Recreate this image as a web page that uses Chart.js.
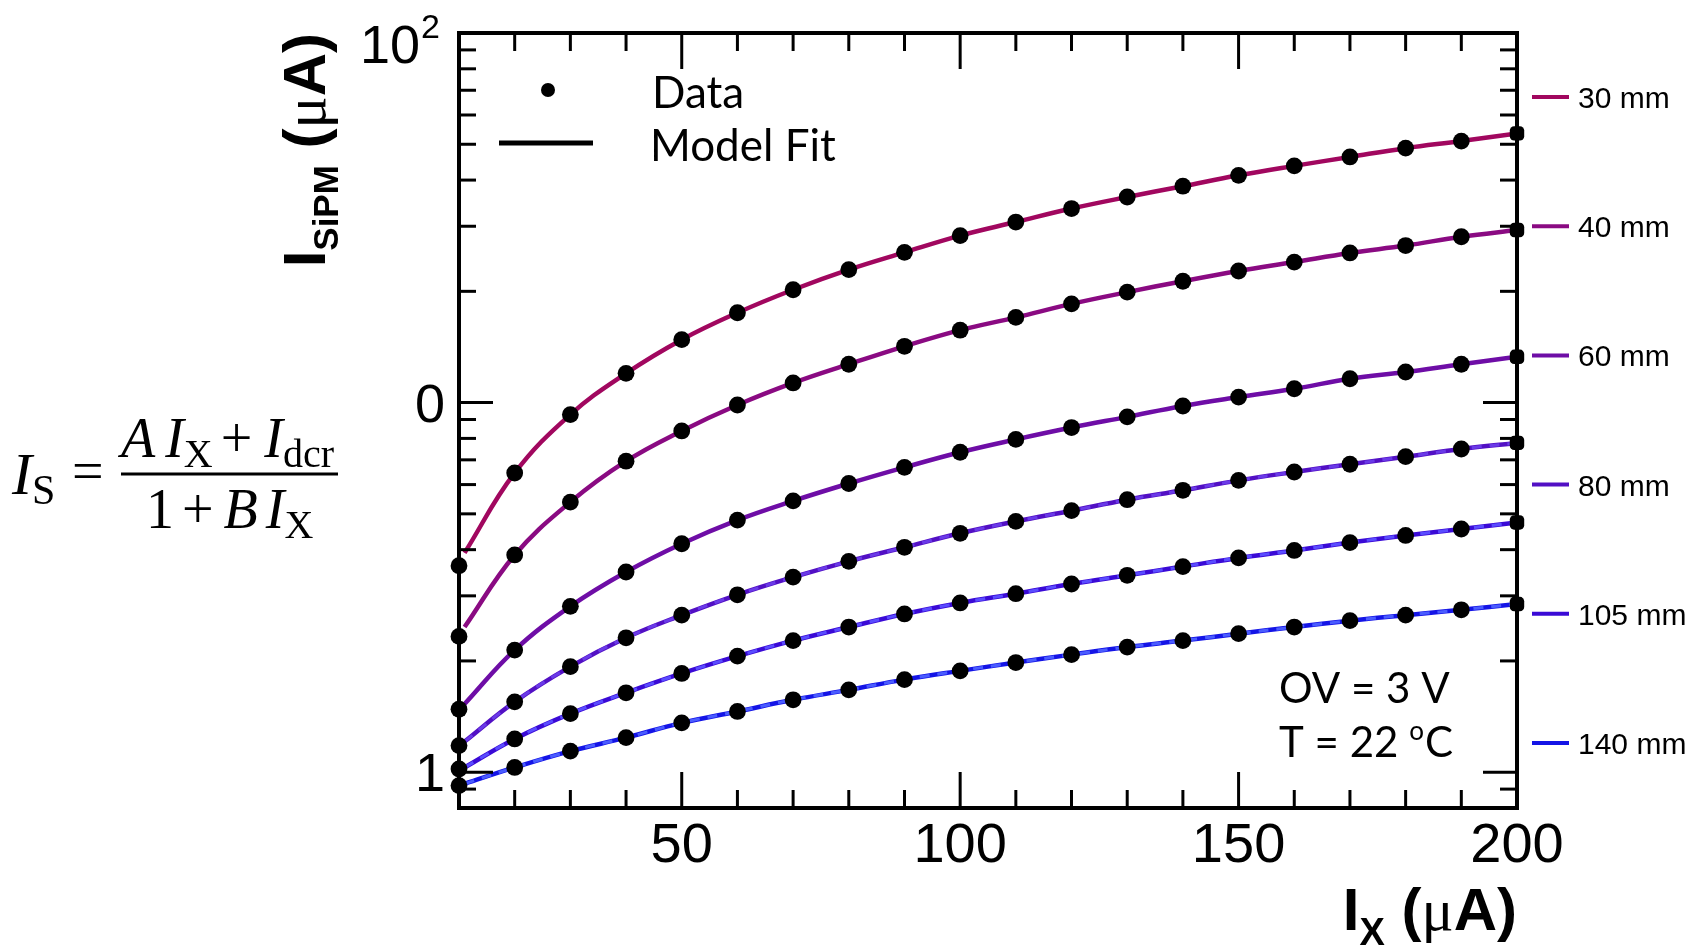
<!DOCTYPE html>
<html>
<head>
<meta charset="utf-8">
<script src="https://cdn.jsdelivr.net/npm/chart.js@4.4.0/dist/chart.umd.min.js"></script>
<style>
  body { margin: 0; background: #fff; }
  canvas { display: block; }
</style>
</head>
<body>
<canvas id="c" width="1698" height="946"></canvas>
<script>
// I_X values (uA), shared by every distance
var currents = [10, 20, 30, 40, 50, 60, 70, 80, 90, 100, 110, 120, 130, 140, 150, 160, 170, 180, 190, 200];

// I_SiPM (uA), one array per distance
var d30  = [3.62, 6.45, 9.28, 12.0, 14.8, 17.5, 20.2, 22.9, 25.5, 28.3, 30.8, 33.5, 36.0, 38.5, 41.2, 43.7, 46.2, 48.8, 51.0, 53.5];
var d40  = [2.33, 3.87, 5.38, 6.94, 8.38, 9.85, 11.3, 12.7, 14.2, 15.7, 17.0, 18.5, 19.9, 21.3, 22.7, 24.0, 25.4, 26.6, 28.1, 29.3];
var d60  = [1.48, 2.14, 2.81, 3.48, 4.15, 4.81, 5.42, 6.04, 6.68, 7.34, 7.95, 8.56, 9.15, 9.79, 10.35, 10.9, 11.6, 12.1, 12.7, 13.3];
var d80  = [1.18, 1.55, 1.93, 2.31, 2.66, 3.02, 3.37, 3.72, 4.06, 4.43, 4.77, 5.10, 5.46, 5.79, 6.16, 6.49, 6.81, 7.14, 7.49, 7.78];
var d105 = [1.02, 1.23, 1.44, 1.64, 1.85, 2.06, 2.27, 2.47, 2.68, 2.87, 3.04, 3.23, 3.41, 3.60, 3.80, 3.98, 4.18, 4.37, 4.55, 4.74];
var d140 = [0.92, 1.03, 1.14, 1.24, 1.36, 1.46, 1.57, 1.67, 1.78, 1.88, 1.98, 2.08, 2.18, 2.27, 2.37, 2.47, 2.57, 2.66, 2.75, 2.85];

// the fit curves start a little right of the first point
var fitStartX = 11;
var fitStart = [3.92, 2.47, 1.53, 1.21, 1.03, 0.93];

var series = [d30, d40, d60, d80, d105, d140];
var distances = ["30 mm", "40 mm", "60 mm", "80 mm", "105 mm", "140 mm"];
var colors = ["#a1075f", "#8a0a82", "#6e0da6", "#5210c4", "#3a0ad6", "#1414e6"];
var dashColors = [null, null, null, "#6a3ae8", "#5a4cff", "#4a5cff"];

var xMajor = [50, 100, 150, 200];
var xMinor = [20, 30, 40, 60, 70, 80, 90, 110, 120, 130, 140, 160, 170, 180, 190];
var yMajor = [1, 10, 100];
var yMinor = [0.9, 2, 3, 4, 5, 6, 7, 8, 9, 20, 30, 40, 50, 60, 70, 80, 90];
var xLabels = ["50", "100", "150", "200"];

function pts(vals) {
  return currents.map(function(x, i) { return { x: x, y: vals[i] }; });
}

var datasets = [];
for (var k = 0; k < series.length; k++) {
  var dots = pts(series[k]);
  var fit = [{ x: fitStartX, y: fitStart[k] }].concat(dots.slice(1));
  datasets.push({
    data: dots, showLine: false, order: 0, clip: false,
    pointRadius: 8.4, pointBorderWidth: 0, pointBackgroundColor: "#000",
    pointStyle: currents.map(function(x, i) { return i == currents.length - 1 ? "rectRounded" : "circle"; })
  });
  if (dashColors[k]) {
    datasets.push({
      data: fit, showLine: true, order: 1, pointRadius: 0,
      borderColor: dashColors[k], borderWidth: 3, borderDash: [10, 8],
      tension: 0.4
    });
  }
  datasets.push({
    data: fit, showLine: true, order: 2, pointRadius: 0,
    borderColor: colors[k], borderWidth: 4.5,
    tension: 0.4
  });
}

// draw a row of text pieces, each with its own font and baseline shift
function runs(ctx, x, y, parts) {
  parts.forEach(function(p) {
    ctx.font = p.f;
    ctx.fillText(p.t, x + (p.dx || 0), y + (p.dy || 0));
    x += (p.dx || 0) + ctx.measureText(p.t).width;
  });
  return x;
}
function runsWidth(ctx, parts) {
  var w = 0;
  parts.forEach(function(p) { ctx.font = p.f; w += (p.dx || 0) + ctx.measureText(p.t).width; });
  return w;
}

var decor = {
  id: "decor",
  afterDraw: function(chart) {
    var ctx = chart.ctx, a = chart.chartArea;
    var sx = chart.scales.x, sy = chart.scales.y;
    ctx.save();
    ctx.strokeStyle = "#000";
    ctx.fillStyle = "#000";

    // ticks on all four sides, pointing inwards
    ctx.lineWidth = 3;
    function seg(x1, y1, x2, y2) { ctx.beginPath(); ctx.moveTo(x1, y1); ctx.lineTo(x2, y2); ctx.stroke(); }
    xMajor.forEach(function(v) { var p = sx.getPixelForValue(v); seg(p, a.bottom, p, a.bottom - 36); seg(p, a.top, p, a.top + 36); });
    xMinor.forEach(function(v) { var p = sx.getPixelForValue(v); seg(p, a.bottom, p, a.bottom - 18); seg(p, a.top, p, a.top + 18); });
    yMajor.forEach(function(v) { var p = sy.getPixelForValue(v); seg(a.left, p, a.left + 34, p); seg(a.right, p, a.right - 34, p); });
    yMinor.forEach(function(v) { var p = sy.getPixelForValue(v); seg(a.left, p, a.left + 17, p); seg(a.right, p, a.right - 17, p); });

    // frame
    ctx.lineWidth = 4;
    ctx.strokeRect(a.left, a.top, a.right - a.left, a.bottom - a.top);

    // x tick labels
    ctx.font = "56px 'Liberation Sans'";
    ctx.textAlign = "center";
    ctx.textBaseline = "alphabetic";
    xMajor.forEach(function(v, i) { ctx.fillText(xLabels[i], sx.getPixelForValue(v), 862); });

    // y tick labels
    ctx.textAlign = "right";
    ctx.font = "54px 'Liberation Sans'";
    ctx.fillText("1", 445, sy.getPixelForValue(1) + 19);
    ctx.fillText("0", 445, sy.getPixelForValue(10) + 19);
    ctx.fillText("10", 420, 63);
    ctx.textAlign = "left";
    ctx.font = "34px 'Liberation Sans'";
    ctx.fillText("2", 421, 38);

    // x axis title, right aligned to the frame
    var xt = [
      { t: "I", f: "bold 60px 'Liberation Sans'" },
      { t: "X", f: "bold 38px 'Liberation Sans'", dy: 15 },
      { t: " (", f: "bold 60px 'Liberation Sans'" },
      { t: "\u03bc", f: "60px 'Liberation Serif'" },
      { t: "A)", f: "bold 60px 'Liberation Sans'" }
    ];
    runs(ctx, a.right - runsWidth(ctx, xt), 930, xt);

    // y axis title, rotated
    var yt = [
      { t: "I", f: "bold 60px 'Liberation Sans'" },
      { t: "SiPM", f: "bold 35px 'Liberation Sans'", dy: 13 },
      { t: " (", f: "bold 60px 'Liberation Sans'" },
      { t: "\u03bc", f: "60px 'Liberation Serif'" },
      { t: "A)", f: "bold 60px 'Liberation Sans'" }
    ];
    var yw = runsWidth(ctx, yt);
    ctx.save();
    ctx.translate(325, 33 + yw);
    ctx.rotate(-Math.PI / 2);
    runs(ctx, 0, 0, yt);
    ctx.restore();

    // legend inside the frame
    ctx.beginPath(); ctx.arc(548, 90, 7, 0, Math.PI * 2); ctx.fill();
    ctx.lineWidth = 5;
    seg(499, 143, 593, 143);
    ctx.font = "44px Lato";
    ctx.fillText("Data", 652, 108);
    ctx.fillText("Model Fit", 650, 161);

    // running conditions
    ctx.font = "42px Lato";
    ctx.fillText("OV = 3 V", 1279, 703);
    var tx = runs(ctx, 1279, 757, [{ t: "T = 22 ", f: "42px Lato" }]);
    tx = runs(ctx, tx, 757, [{ t: "o", f: "26px Lato", dy: -17 }]);
    runs(ctx, tx + 1, 757, [{ t: "C", f: "42px Lato" }]);

    // distance key on the right
    ctx.lineWidth = 4;
    ctx.font = "30px 'Liberation Sans'";
    distances.forEach(function(d, i) {
      var y = 97 + i * 129.2;
      ctx.strokeStyle = colors[i];
      seg(1532, y, 1569, y);
      ctx.fillText(d, 1578, y + 11);
    });

    // model formula
    var it = "italic 56px 'Liberation Serif'", rm = "56px 'Liberation Serif'", sb = "40px 'Liberation Serif'";
    runs(ctx, 12, 494, [{ t: "I", f: "italic 60px 'Liberation Serif'" }, { t: "S", f: "42px 'Liberation Serif'", dy: 10 }]);
    ctx.font = rm; ctx.fillText("=", 72, 490);
    ctx.strokeStyle = "#000"; ctx.lineWidth = 3;
    seg(121, 474, 338, 474);
    runs(ctx, 121, 457, [
      { t: "A", f: it }, { t: "I", f: it, dx: 10 }, { t: "X", f: sb, dy: 10 },
      { t: "+", f: rm, dx: 8 }, { t: "I", f: it, dx: 12 }, { t: "dcr", f: sb, dy: 10 }
    ]);
    runs(ctx, 146, 528, [
      { t: "1", f: rm }, { t: "+", f: rm, dx: 8 }, { t: "B", f: it, dx: 10 },
      { t: "I", f: it, dx: 8 }, { t: "X", f: sb, dy: 10 }
    ]);
    ctx.restore();
  }
};

new Chart(document.getElementById("c"), {
  type: "scatter",
  data: { datasets: datasets },
  options: {
    responsive: false,
    animation: false,
    layout: { padding: { left: 459, right: 181, top: 33, bottom: 138 } },
    scales: {
      x: { type: "linear", min: 10, max: 200, display: false },
      y: { type: "logarithmic", min: 0.8, max: 100, display: false }
    },
    plugins: { legend: { display: false }, tooltip: { enabled: false } }
  },
  plugins: [decor]
});
</script>
</body>
</html>
